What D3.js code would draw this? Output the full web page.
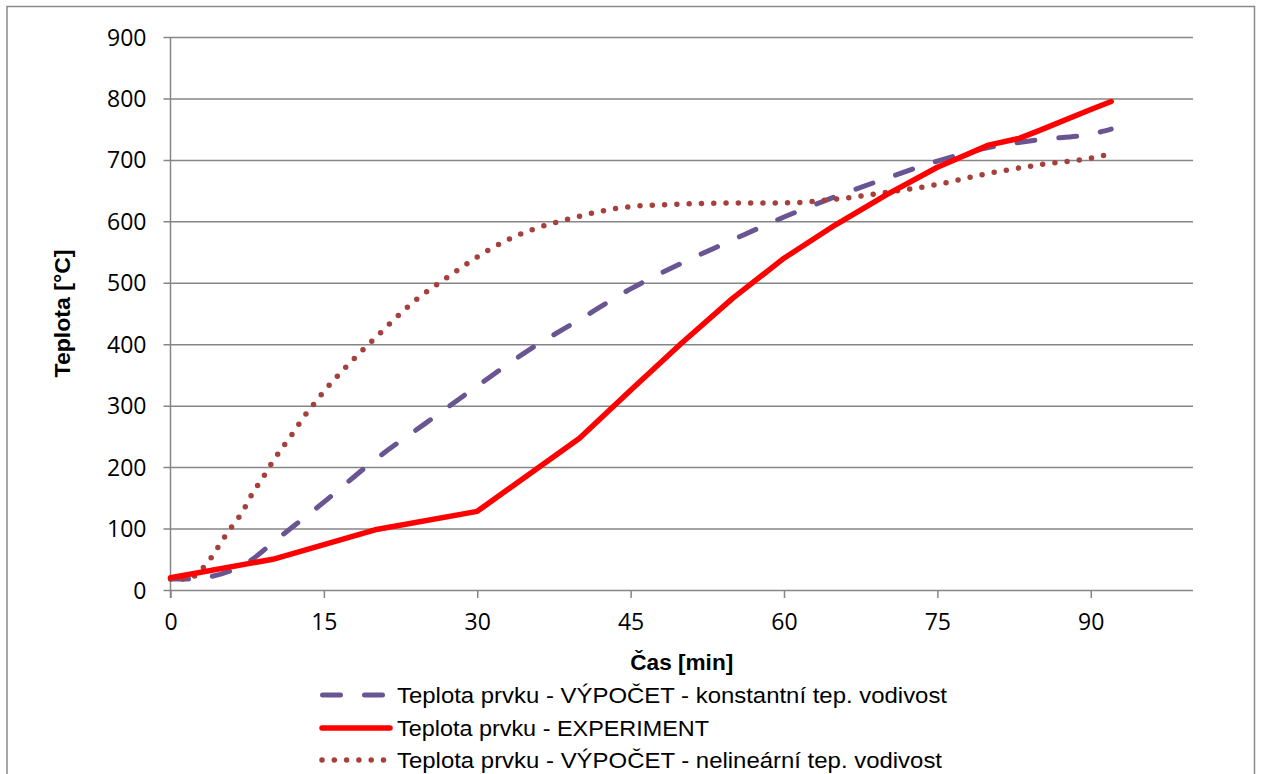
<!DOCTYPE html>
<html>
<head>
<meta charset="utf-8">
<script src="https://cdn.jsdelivr.net/npm/d3@7"></script>
<style>
  html, body { margin: 0; padding: 0; background: #fff; }
  svg { display: block; }
</style>
</head>
<body>
<svg id="chart" width="1262" height="774"></svg>
<script>
// Time axis ticks (min) and temperature ticks (°C)
const xTicks = [0, 15, 30, 45, 60, 75, 90];
const yTicks = [0, 100, 200, 300, 400, 500, 600, 700, 800, 900];

// Calculation with constant thermal conductivity
const timeConst = [0, 2, 4, 6, 8, 10, 15, 20, 25, 30, 35, 40, 45, 50, 55, 60, 65, 70, 75, 80, 85, 90, 92];
const tempConst = [18, 18, 22, 32, 50, 77, 143, 212, 272, 332, 390, 440, 490, 532, 570, 607, 640, 670, 698, 720, 733, 742, 750];

// Measured element temperature
const timeExp = [0, 10, 20, 30, 40, 45, 50, 55, 60, 65, 70, 75, 80, 83, 85, 90, 92];
const tempExp = [20, 50, 98, 128, 247, 325, 402, 475, 540, 594, 643, 688, 724, 735, 748, 782, 795];

// Calculation with non-linear thermal conductivity
const timeNonlin = [0, 1, 2, 3, 4, 5, 6, 7, 8, 9, 10, 11, 12, 13, 14, 15, 17, 20, 24, 27, 30, 33, 36, 39, 42, 45, 50, 55, 60, 65, 70, 75, 80, 85, 90, 92];
const tempNonlin = [18, 18, 20, 33, 53, 79, 103, 126, 157, 182, 209, 233, 256, 281, 302, 323, 360, 410, 472, 508, 542, 570, 590, 604, 616, 624, 628, 630, 630, 636, 647, 660, 678, 692, 703, 710];

const seriesNames = [
  "Teplota prvku - VÝPOČET - konstantní tep. vodivost",
  "Teplota prvku - EXPERIMENT",
  "Teplota prvku - VÝPOČET - nelineární tep. vodivost"
];
const xTitle = "Čas [min]";
const yTitle = "Teplota [°C]";

const svg = d3.select("#chart");
const gridColor = "#868686";
const tickFont = "'Open Sans', 'Noto Sans', sans-serif";
const textFont = "'Liberation Sans', Arial, sans-serif";

const x = d3.scaleLinear().domain([0, 100]).range([170.5, 1193]);
const y = d3.scaleLinear().domain([0, 900]).range([590, 37]);

// chart border
svg.append("rect")
  .attr("x", 7).attr("y", 6.5)
  .attr("width", 1247.5).attr("height", 800)
  .attr("fill", "none")
  .attr("stroke", "#8a8a8a")
  .attr("stroke-width", 1.5);

// horizontal gridlines + left ticks
const yAxis = d3.axisLeft(y).tickValues(yTicks)
  .tickSize(-(x.range()[1] - x.range()[0]))
  .tickSizeOuter(0)
  .tickPadding(24);
const gy = svg.append("g").attr("transform", `translate(${x(0)},0)`).call(yAxis);
gy.select(".domain").remove();
gy.selectAll(".tick line")
  .attr("x1", -7)
  .attr("stroke", gridColor).attr("stroke-width", 1.5);
gy.selectAll(".tick text")
  .attr("font-family", tickFont).attr("font-size", 23)
  .attr("fill", "#000").attr("dy", "0.35em");

// x axis ticks
const xAxis = d3.axisBottom(x).tickValues(xTicks).tickSize(8).tickSizeOuter(0).tickPadding(16);
const gx = svg.append("g").attr("transform", `translate(0,${y(0)})`).call(xAxis);
gx.select(".domain").remove();
gx.selectAll(".tick line").attr("stroke", gridColor).attr("stroke-width", 1.5);
gx.selectAll(".tick text")
  .attr("font-family", tickFont).attr("font-size", 23).attr("fill", "#000");

// vertical axis line
svg.append("line")
  .attr("x1", x(0)).attr("x2", x(0))
  .attr("y1", y(900)).attr("y2", y(0) + 8)
  .attr("stroke", gridColor).attr("stroke-width", 1.5);

// axis titles
svg.append("text")
  .attr("x", x(50)).attr("y", 670)
  .attr("text-anchor", "middle")
  .attr("font-family", textFont).attr("font-weight", "bold").attr("font-size", 22)
  .attr("textLength", 103).attr("lengthAdjust", "spacingAndGlyphs")
  .text(xTitle);
svg.append("text")
  .attr("transform", `translate(70,${(y(0) + y(900)) / 2}) rotate(-90)`)
  .attr("text-anchor", "middle")
  .attr("font-family", textFont).attr("font-weight", "bold").attr("font-size", 22)
  .attr("textLength", 128).attr("lengthAdjust", "spacingAndGlyphs")
  .text(yTitle);

// series
const series = [
  { t: timeConst, v: tempConst, color: "#6a5593", width: 5, dash: "18,24", curve: d3.curveMonotoneX, legendEnd: 947 },
  { t: timeExp, v: tempExp, color: "#ff0000", width: 5.5, dash: null, curve: d3.curveLinear, legendEnd: 709 },
  { t: timeNonlin, v: tempNonlin, color: "#a5403c", width: 5.5, dash: "0,12.3", curve: d3.curveMonotoneX, legendEnd: 942 }
];

const drawOrder = [0, 2, 1];
drawOrder.forEach(i => {
  const s = series[i];
  const pts = s.t.map((t, k) => [t, s.v[k]]);
  const line = d3.line().x(d => x(d[0])).y(d => y(d[1])).curve(s.curve);
  svg.append("path")
    .datum(pts)
    .attr("d", line)
    .attr("fill", "none")
    .attr("stroke", s.color)
    .attr("stroke-width", s.width)
    .attr("stroke-linecap", "round")
    .attr("stroke-linejoin", "round")
    .attr("stroke-dasharray", s.dash);
});

// legend
const legendRows = [695, 728, 760];
series.forEach((s, i) => {
  const ly = legendRows[i];
  svg.append("line")
    .attr("x1", s.dash === "18,24" ? 322.5 : 322).attr("x2", s.dash ? 387 : 390)
    .attr("y1", ly).attr("y2", ly)
    .attr("stroke", s.color)
    .attr("stroke-width", s.width)
    .attr("stroke-linecap", "round")
    .attr("stroke-dasharray", s.dash);
  svg.append("text")
    .attr("x", 397).attr("y", ly)
    .attr("dy", "0.35em")
    .attr("font-family", textFont).attr("font-size", 22.5)
    .attr("textLength", s.legendEnd - 397).attr("lengthAdjust", "spacingAndGlyphs")
    .attr("fill", "#000")
    .text(seriesNames[i]);
});
</script>
</body>
</html>
